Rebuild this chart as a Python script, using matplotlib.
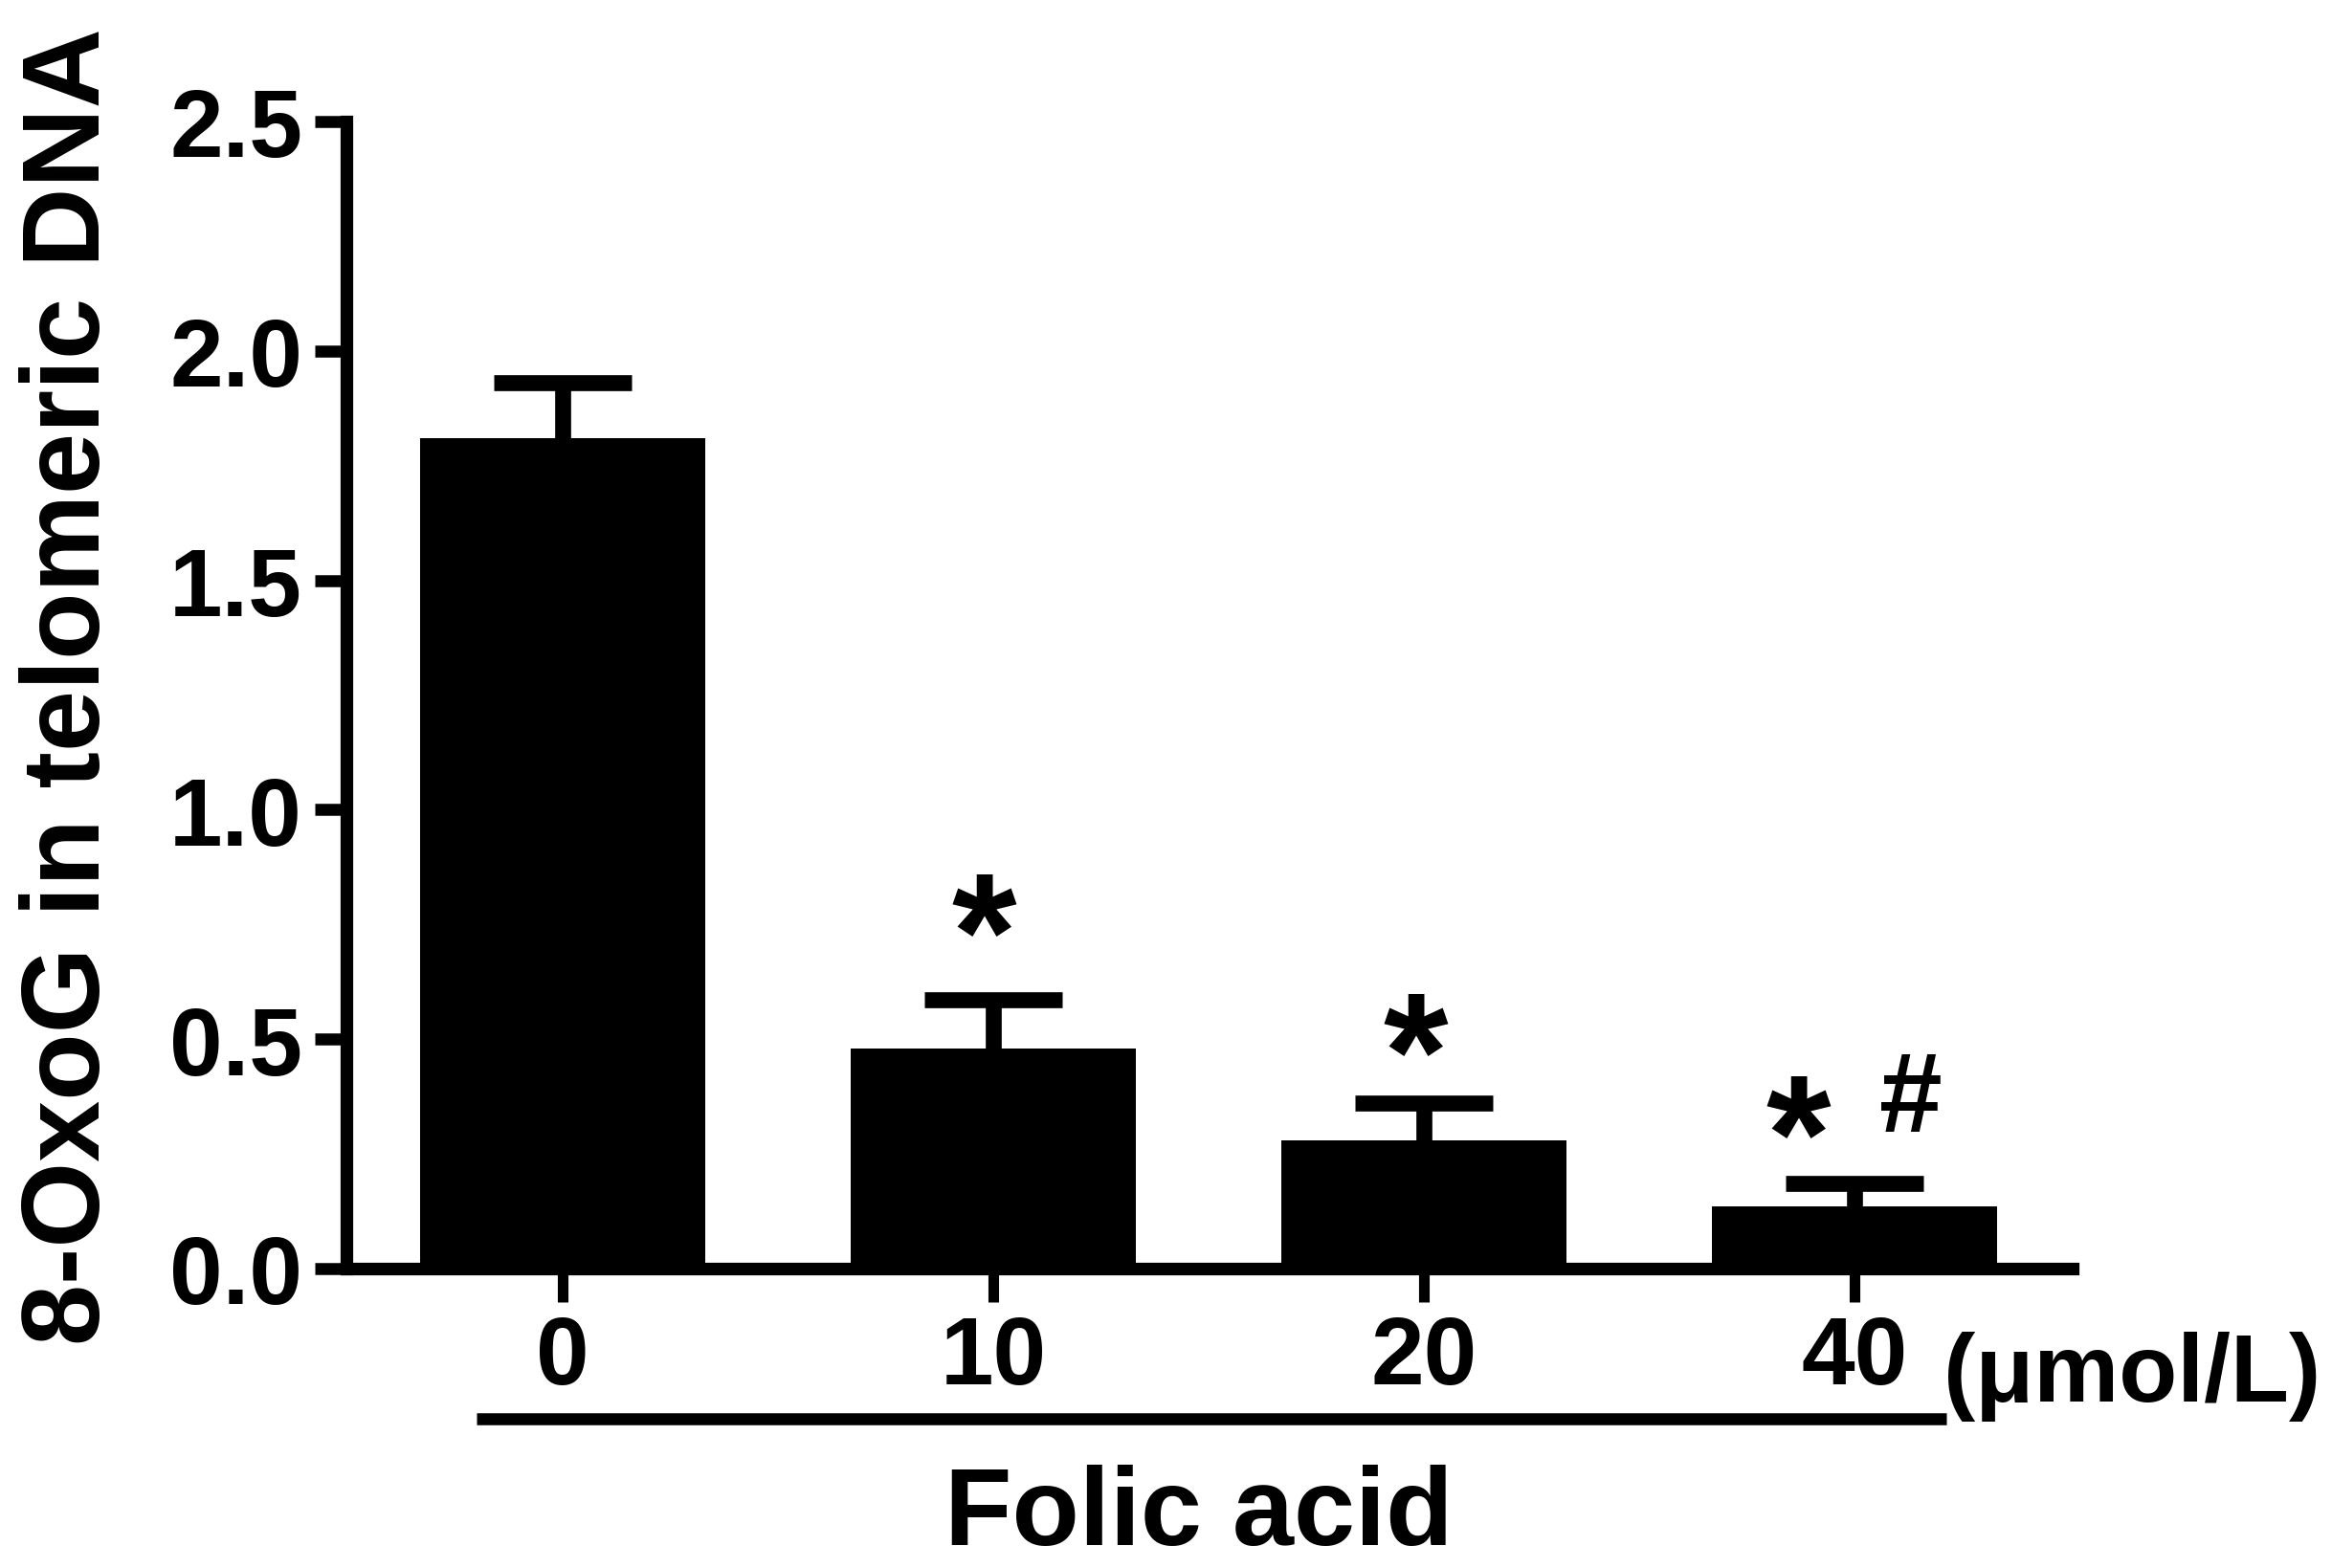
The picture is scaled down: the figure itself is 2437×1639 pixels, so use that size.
import matplotlib
matplotlib.use("Agg")
import matplotlib.pyplot as plt
from matplotlib.lines import Line2D

# folic acid doses and 8-OxoG in telomeric DNA (mean, SEM)
doses = ["0", "10", "20", "40"]
means = [1.81, 0.48, 0.28, 0.135]
errs = [0.12, 0.105, 0.08, 0.05]

# significance marks: label, bar index, x offset from bar centre, baseline height
sig_labels = ["*", "*", "*", "#"]
sig_bar = [1, 2, 3, 3]
sig_dx = [-0.02, -0.02, -0.13, 0.13]
sig_y = [0.61, 0.35, 0.17, 0.30]

plt.rcParams["font.family"] = ["Liberation Sans", "DejaVu Sans"]
plt.rcParams["font.weight"] = "bold"

fig = plt.figure(figsize=(24.37, 16.4), dpi=100)
ax = fig.add_axes([0.1485, 0.1909, 0.8888 - 0.1485, 0.922 - 0.1909])

x = list(range(len(doses)))
# lower half of each error bar sits behind the bar, like GraphPad
ax.errorbar(x, means, yerr=errs, fmt="none", ecolor="black",
            elinewidth=12, capsize=52, capthick=12, zorder=1)
ax.bar(x, means, width=0.662, color="black", linewidth=0, zorder=2)

for lab, b, dx, yy in zip(sig_labels, sig_bar, sig_dx, sig_y):
    size = 125 if lab == "*" else 85
    ax.text(x[b] + dx, yy, lab, ha="center", va="baseline", fontsize=size,
            fontweight="bold")

ax.set_xlim(-0.502, 3.507)
ax.set_ylim(0, 2.5)
ax.set_yticks([0.0, 0.5, 1.0, 1.5, 2.0, 2.5])
ax.set_yticklabels(["0.0", "0.5", "1.0", "1.5", "2.0", "2.5"])
ax.set_xticks(x)
ax.set_xticklabels(doses)

for side in ["top", "right"]:
    ax.spines[side].set_visible(False)
for side in ["left", "bottom"]:
    ax.spines[side].set_linewidth(9.5)
    ax.spines[side].set_zorder(3)

ax.tick_params(axis="y", length=24, width=9, pad=9, labelsize=72)
ax.tick_params(axis="x", length=25, width=8, pad=9, labelsize=72)

fig.text(74 / 2437, 1 - 718 / 1640, "8-OxoG in telomeric DNA", rotation=90,
         ha="center", va="center", fontsize=83, fontweight="bold")
fig.text(2031 / 2437, 1 - 1465 / 1640, "(\u03bcmol/L)", ha="left", va="baseline",
         fontsize=72, fontweight="bold")
fig.add_artist(Line2D([498 / 2437, 2034 / 2437], [1 - 1484 / 1640, 1 - 1484 / 1640],
                      color="black", linewidth=9, solid_capstyle="butt"))
fig.text(1253 / 2437, 1 - 1615 / 1640, "Folic acid", ha="center", va="baseline",
         fontsize=83, fontweight="bold")

fig.savefig("out.png", dpi=100)
